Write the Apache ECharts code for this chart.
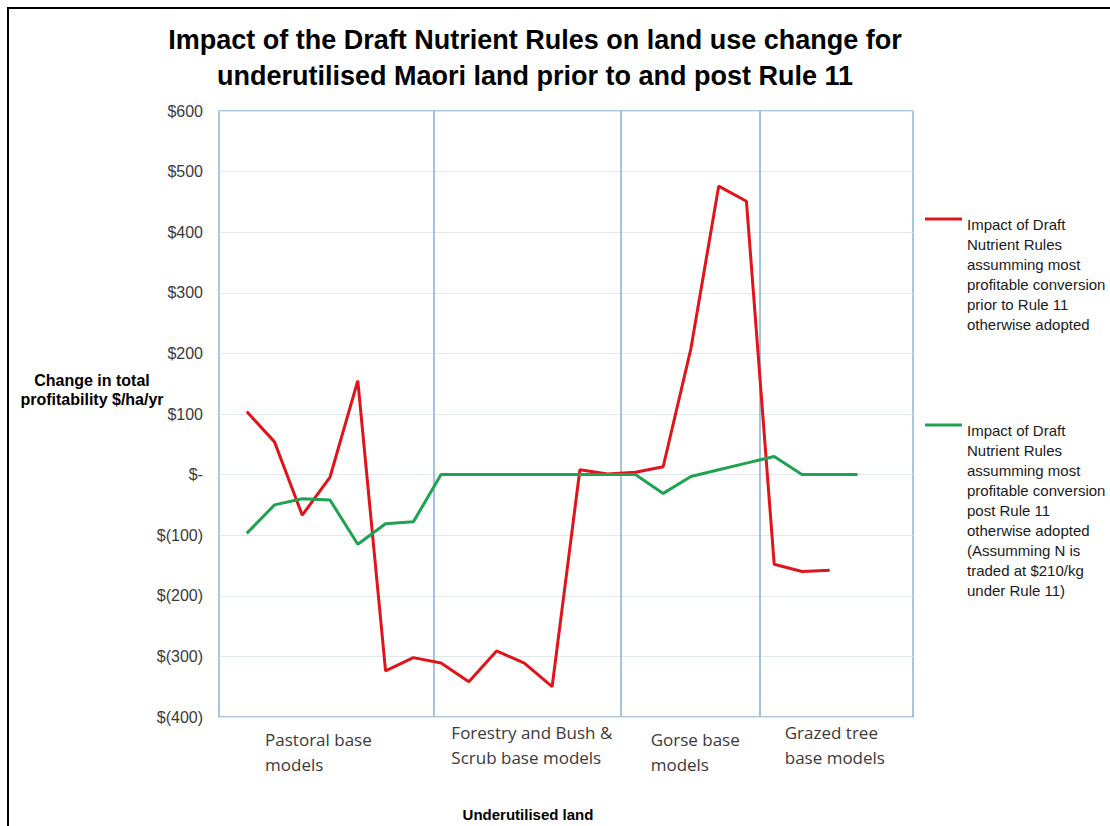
<!DOCTYPE html>
<html>
<head>
<meta charset="utf-8">
<script src="https://cdn.jsdelivr.net/npm/echarts@6/dist/echarts.min.js"></script>
<style>
html,body{margin:0;padding:0;background:#fff;}
#chart{width:1110px;height:826px;}
</style>
</head>
<body>
<div id="chart"></div>
<script>
// ---------- data ----------
const chartTitle = 'Impact of the Draft Nutrient Rules on land use change for\nunderutilised Maori land prior to and post Rule 11';
const yAxisTitle = 'Change in total\nprofitability $/ha/yr';
const xAxisTitle = 'Underutilised land';

// model position along the x axis (one per modelled land-use case)
const categories = [1,2,3,4,5,6,7,8,9,10,11,12,13,14,15,16,17,18,19,20,21,22,23];

// land groups shown under the axis
const groups = ['Pastoral base\nmodels', 'Forestry and Bush &\nScrub base models', 'Gorse base\nmodels', 'Grazed tree\nbase models'];
// boundaries between the groups (axis units)
const groupBounds = [7.72, 14.46, 19.47];

const seriesNames = [
  'Impact of Draft\nNutrient Rules\nassumming most\nprofitable conversion\nprior to Rule 11\notherwise adopted',
  'Impact of Draft\nNutrient Rules\nassumming most\nprofitable conversion\npost Rule 11\notherwise adopted\n(Assumming N is\ntraded at $210/kg\nunder Rule 11)'
];
const priorRule11 = [104, 54, -67, -4, 155, -324, -302, -311, -342, -291, -311, -350, 8, 1, 4, 13, 208, 476, 451, -148, -160, -158];
const postRule11  = [-97, -50, -40, -42, -115, -81, -78, 0, 0, 0, 0, 0, 0, 0, 0, -31, -3, 8, 19, 30, 0, 0, 0];

const yTickValues = [-400, -300, -200, -100, 0, 100, 200, 300, 400, 500, 600];

// ---------- layout / style ----------
const groupLabelAt = [1.66, 8.37, 15.55, 20.38];
const groupLabelLowered = [true, false, true, false];
const sans = "'Liberation Sans', Arial, sans-serif";
const sepColor = '#a6c2dc';

const pairs = (vals) => vals.map((v, i) => [categories[i], v]);
const money = (v) => v === 0 ? '$-' : (v < 0 ? '$(' + (-v) + ')' : '$' + v);
// put the legend icon beside the first line of a multi-line legend text
const legendText = (name) => {
  const n = name.split('\n').length;
  return ' \n'.repeat(n - 1) + '{g| }\n' + name;
};
const groupLabel = (v) => {
  const i = groupLabelAt.indexOf(v);
  if (i < 0) return '';
  return (groupLabelLowered[i] ? '{s| }\n' : '') + groups[i];
};

const legendBase = {
  padding: 0, orient: 'vertical', icon: 'rect', itemWidth: 37, itemHeight: 3,
  selectedMode: false, formatter: legendText,
  textStyle: {fontFamily: sans, fontSize: 15, lineHeight: 20, color: '#1a1a1a',
    rich: {g: {fontSize: 8, lineHeight: 10}}}
};

const chart = echarts.init(document.getElementById('chart'), null, {renderer: 'svg'});
chart.setOption({
  backgroundColor: '#ffffff',
  animation: false,
  graphic: [{
    type: 'rect', silent: true,
    shape: {x: 8, y: 8, width: 1300, height: 1000},
    style: {fill: null, stroke: '#000', lineWidth: 2}
  }],
  title: [
    {
      text: chartTitle,
      left: 530, top: 17, textAlign: 'center',
      textStyle: {fontFamily: sans, fontWeight: 'bold', fontSize: 27, lineHeight: 36, color: '#000'}
    },
    {
      text: yAxisTitle,
      left: 87, top: 366, textAlign: 'center',
      textStyle: {fontFamily: sans, fontWeight: 'bold', fontSize: 16, lineHeight: 19, color: '#000'}
    }
  ],
  legend: [
    Object.assign({}, legendBase, {data: [seriesNames[0]], left: 925, top: 104}),
    Object.assign({}, legendBase, {data: [seriesNames[1]], left: 925, top: 250})
  ],
  grid: {
    left: 219, right: 197, top: 111, bottom: 109,
    show: true, borderColor: '#8fb3d1', borderWidth: 1.5,
    containLabel: false, outerBoundsMode: 'none'
  },
  xAxis: {
    type: 'value', min: 0, max: 25,
    axisLine: {show: false},
    axisTick: {show: true, customValues: groupBounds, length: 62, lineStyle: {color: sepColor, width: 2}},
    splitLine: {show: true, lineStyle: {color: sepColor, width: 2}},
    axisLabel: {
      customValues: groupLabelAt,
      formatter: groupLabel,
      align: 'left', margin: 3,
      fontFamily: "'Open Sans', sans-serif", fontSize: 17, lineHeight: 25, color: '#3a3a3a',
      rich: {s: {fontSize: 4, lineHeight: 7}}
    },
    name: xAxisTitle, nameLocation: 'middle', nameGap: 90,
    nameTextStyle: {fontFamily: sans, fontWeight: 'bold', fontSize: 15, color: '#000', padding: [0, 76, 0, 0]}
  },
  yAxis: {
    type: 'value', min: -400, max: 600, interval: 100,
    axisLine: {show: false}, axisTick: {show: false},
    splitLine: {show: true, lineStyle: {color: '#e1e7ee', width: 1}},
    axisLabel: {formatter: money, margin: 16, fontFamily: sans, fontSize: 16, color: '#3a3a3a'}
  },
  series: [
    {
      name: seriesNames[0], type: 'line', data: pairs(priorRule11),
      symbol: 'none', smooth: false,
      lineStyle: {color: '#e0151b', width: 3}, itemStyle: {color: '#e0151b'}
    },
    {
      name: seriesNames[1], type: 'line', data: pairs(postRule11),
      symbol: 'none', smooth: false,
      lineStyle: {color: '#1fa352', width: 3}, itemStyle: {color: '#1fa352'}
    }
  ]
});
</script>
</body>
</html>
